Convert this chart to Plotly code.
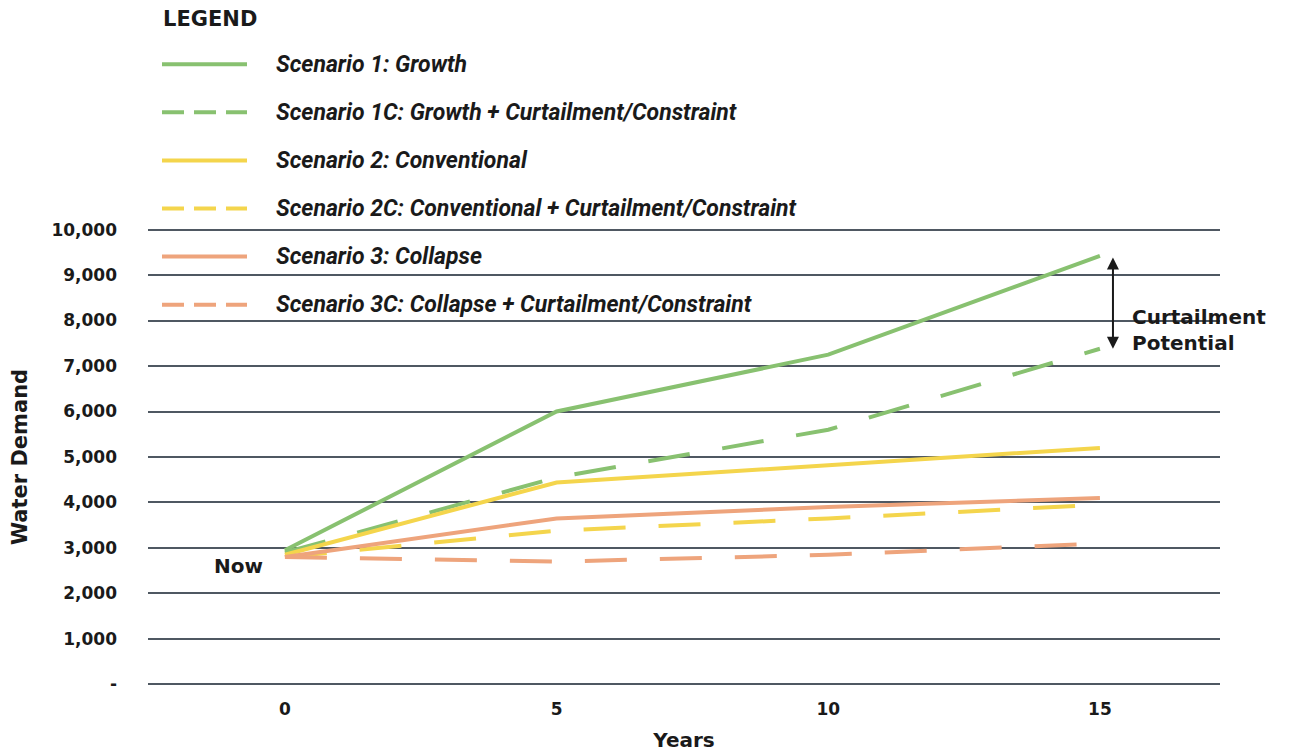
import plotly.graph_objects as go

# ---------------- data ----------------
years = [0, 5, 10, 15]
scenario_names = [
    "Scenario 1: Growth",
    "Scenario 1C: Growth + Curtailment/Constraint",
    "Scenario 2: Conventional",
    "Scenario 2C: Conventional + Curtailment/Constraint",
    "Scenario 3: Collapse",
    "Scenario 3C: Collapse + Curtailment/Constraint",
]
s1 = [2950, 6000, 7250, 9420]
s1c = [2900, 4550, 5600, 7380]
s2 = [2850, 4440, 4820, 5200]
s2c = [2800, 3380, 3650, 3950]
s3 = [2800, 3650, 3900, 4100]
s3c = [2800, 2700, 2850, 3100]
series = [s1, s1c, s2, s2c, s3, s3c]

y_tickvals = [0, 1000, 2000, 3000, 4000, 5000, 6000, 7000, 8000, 9000, 10000]
y_ticktext = ["-", "1,000", "2,000", "3,000", "4,000", "5,000", "6,000",
              "7,000", "8,000", "9,000", "10,000"]
x_tickvals = [0, 5, 10, 15]
x_ticktext = ["0", "5", "10", "15"]

# ---------------- styles ----------------
GREEN = "#88c170"
YELLOW = "#f4d54c"
ORANGE = "#eea47c"
colors = [GREEN, GREEN, YELLOW, YELLOW, ORANGE, ORANGE]
dashed = [False, True, False, True, False, True]
GRID = "#4f5862"
TXT = "#1a1a1a"
ROUND = "DejaVu Sans, Verdana, sans-serif"
LEG = "Roboto, Liberation Sans, sans-serif"

OFF = 8  # page body margin
W, H = 1291 - OFF, 752 - OFF
PAD = 4.54  # pixels for 100 units of y beyond [0, 10000]
L, R = 148 - OFF, 1220 - OFF
T, B = 230 - OFF - PAD, 684 - OFF + PAD  # plot area in figure pixels


def px_x(px):
    return (px - OFF - L) / (R - L)


def px_y(py):
    return (B - (py - OFF)) / (B - T)


fig = go.Figure()
for name, vals, col, dsh in zip(scenario_names, series, colors, dashed):
    fig.add_trace(go.Scatter(
        x=years, y=vals, mode="lines", name=name,
        line=dict(color=col, width=4, dash="42px,33px" if dsh else "solid"),
        showlegend=False, hoverinfo="name+y",
    ))

shapes = []
annotations = []

# manual legend
annotations.append(dict(
    xref="paper", yref="paper", x=px_x(161), y=px_y(20), xanchor="left",
    yanchor="middle", text="LEGEND", showarrow=False,
    font=dict(family=ROUND, size=21, color=TXT, weight="bold"),
))
for i, (name, col, dsh) in enumerate(zip(scenario_names, colors, dashed)):
    yy = px_y(65 + 48 * i)
    shapes.append(dict(
        type="line", xref="paper", yref="paper",
        x0=px_x(162), x1=px_x(247), y0=yy, y1=yy,
        line=dict(color=col, width=4, dash="22px,10px" if dsh else "solid"),
    ))
    annotations.append(dict(
        xref="paper", yref="paper", x=px_x(274), y=yy, xanchor="left",
        yanchor="middle", text=name, showarrow=False,
        font=dict(family=LEG, size=23, color=TXT, weight="bold", style="italic"),
    ))

# "Now" label
annotations.append(dict(
    x=years[0], y=s1[0], xref="x", yref="y", text="Now", showarrow=False,
    xanchor="right", yanchor="middle", xshift=-20, yshift=-16,
    font=dict(family=ROUND, size=20, color=TXT, weight="bold"),
))

# curtailment potential double arrow
annotations.append(dict(
    x=15.24, y=s1c[-1], ax=15.24, ay=s1[-1], xref="x", yref="y",
    axref="x", ayref="y", text="", showarrow=True, arrowside="end+start",
    arrowhead=2, arrowsize=1.2, arrowwidth=2, arrowcolor=TXT,
))
annotations.append(dict(
    x=15.55, y=(s1[-1] + s1c[-1]) / 2, xref="x", yref="y",
    text="Curtailment<br>Potential", showarrow=False, align="left",
    xanchor="left", yanchor="middle", yshift=-28,
    font=dict(family=ROUND, size=20, color=TXT, weight="bold"),
))

fig.update_layout(
    width=W, height=H,
    margin=dict(l=L, r=W - R, t=T, b=H - B, autoexpand=False),
    paper_bgcolor="white", plot_bgcolor="white",
    shapes=shapes, annotations=annotations,
    xaxis=dict(
        range=[-2.52, 17.21], tickvals=x_tickvals, ticktext=x_ticktext,
        showgrid=False, zeroline=False, showline=False,
        ticks="", ticklabelstandoff=8,
        tickfont=dict(family=ROUND, size=17, color=TXT, weight="bold"),
        title=dict(text="Years", standoff=20,
                   font=dict(family=ROUND, size=20, color=TXT, weight="bold")),
    ),
    yaxis=dict(
        range=[-100, 10100], tickvals=y_tickvals, ticktext=y_ticktext,
        showgrid=True, gridcolor=GRID, gridwidth=2, zeroline=False,
        showline=False, ticks="", ticklabelstandoff=30,
        tickfont=dict(family=ROUND, size=17, color=TXT, weight="bold"),
        title=dict(text="Water Demand", standoff=20,
                   font=dict(family=ROUND, size=21, color=TXT, weight="bold")),
    ),
)

fig.write_html("out.html")
